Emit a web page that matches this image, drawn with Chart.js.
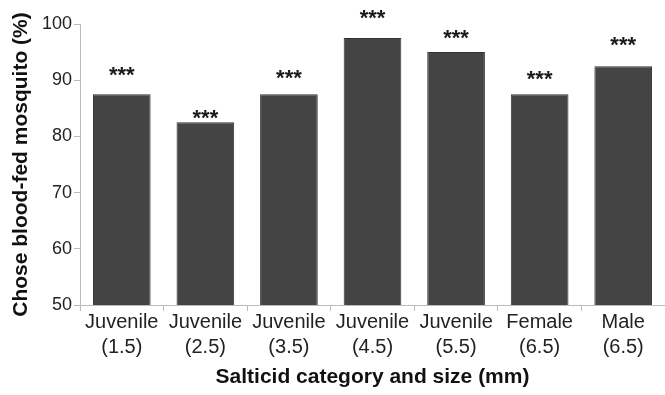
<!DOCTYPE html>
<html>
<head>
<meta charset="utf-8">
<script src="https://cdn.jsdelivr.net/npm/chart.js@4/dist/chart.umd.min.js"></script>
<style>
  html, body { margin: 0; padding: 0; background: #fff; }
  #wrap { width: 665px; height: 395px; }
</style>
</head>
<body>
<div id="wrap"><canvas id="salticid_chart"></canvas></div>
<script>
const categories = [
  ['Juvenile', '(1.5)'],
  ['Juvenile', '(2.5)'],
  ['Juvenile', '(3.5)'],
  ['Juvenile', '(4.5)'],
  ['Juvenile', '(5.5)'],
  ['Female', '(6.5)'],
  ['Male', '(6.5)'],
]
const choseBloodFed = [87.5, 82.5, 87.5, 97.5, 95, 87.5, 92.5]
// where the significance marks sit, in % units
const starLevel = [91.8, 84.2, 91.3, 102, 98.4, 91.1, 97.2]
const starText = ['***', '***', '***', '***', '***', '***', '***']
const yTicks = [50, 60, 70, 80, 90, 100]

const FONT = "'Liberation Sans', Arial, Helvetica, sans-serif"

const starsPlugin = {
  id: 'stars',
  afterDraw(chart) {
    const ctx = chart.ctx
    const xScale = chart.scales.x
    const yScale = chart.scales.y
    ctx.save()
    ctx.fillStyle = '#1a1a1a'
    ctx.font = 'bold 22px ' + FONT
    ctx.textAlign = 'center'
    ctx.textBaseline = 'alphabetic'
    starText.forEach((txt, i) => {
      const x = xScale.getPixelForValue(i)
      const y = yScale.getPixelForValue(starLevel[i])
      ctx.fillText(txt, x, y + 12)
    })
    ctx.restore()
  },
}

const ref = document.getElementById('salticid_chart').getContext('2d')

new Chart(ref, {
  type: 'bar',
  data: {
    labels: categories,
    datasets: [
      {
        data: choseBloodFed,
        backgroundColor: '#444444',
        borderColor: '#333333',
        borderWidth: 1,
        barPercentage: 0.69,
        categoryPercentage: 1,
      },
    ],
  },
  options: {
    responsive: true,
    maintainAspectRatio: false,
    animation: false,
    layout: { padding: { top: 24, right: 0, bottom: 0, left: 0 } },
    plugins: {
      legend: { display: false },
      tooltip: { enabled: false },
    },
    scales: {
      x: {
        offset: true,
        grid: {
          offset: true,
          drawOnChartArea: false,
          drawTicks: true,
          tickLength: 6,
          color: '#bbbbbb',
        },
        border: { display: true, color: '#bbbbbb' },
        ticks: {
          color: '#222',
          padding: -1,
          maxRotation: 0,
          autoSkip: false,
          font: { size: 20, family: FONT, lineHeight: 1.25 },
        },
        title: {
          display: true,
          text: 'Salticid category and size (mm)',
          color: '#111',
          font: { size: 21, weight: 'bold', family: FONT },
          padding: { top: 0, bottom: 5 },
        },
        afterFit: (scale) => { scale.height = 90 },
      },
      y: {
        min: 50,
        max: 100,
        afterBuildTicks: (scale) => {
          scale.ticks = yTicks.map((v) => ({ value: v }))
        },
        grid: {
          drawOnChartArea: false,
          drawTicks: true,
          tickLength: 6,
          color: '#bbbbbb',
        },
        border: { display: true, color: '#bbbbbb' },
        ticks: {
          color: '#222',
          padding: 2,
          font: { size: 18, family: FONT },
        },
        title: {
          display: true,
          text: 'Chose blood-fed mosquito (%)',
          color: '#111',
          font: { size: 21, weight: 'bold', family: FONT },
          padding: { top: 9, bottom: 0 },
        },
        afterFit: (scale) => { scale.width = 80 },
      },
    },
  },
  plugins: [starsPlugin],
})
</script>
</body>
</html>
